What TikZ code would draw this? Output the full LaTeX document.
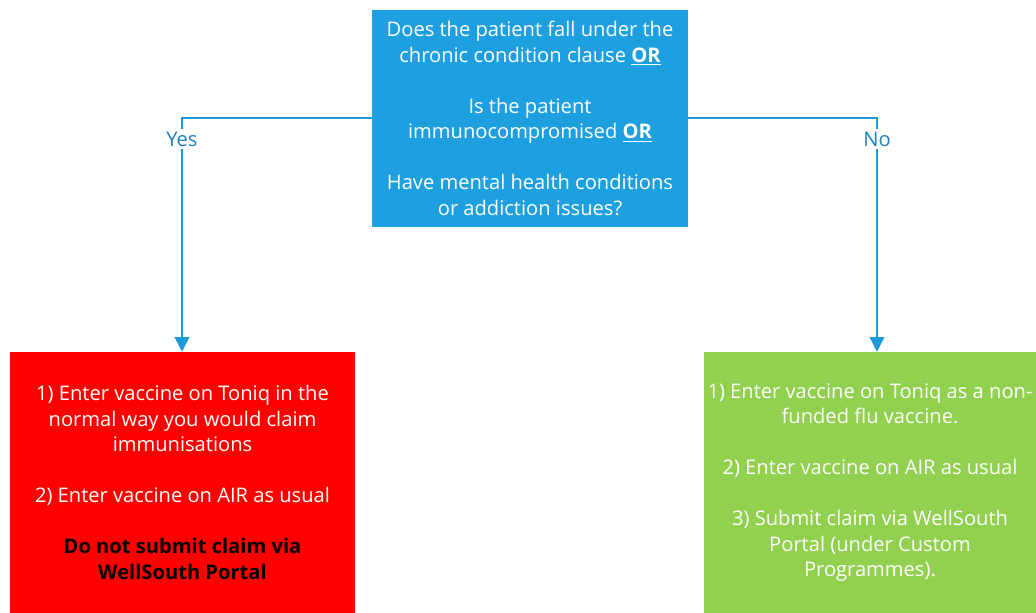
\documentclass[tikz,border=0pt]{standalone}
\usepackage{fontspec}
\setmainfont{Open Sans}
\usetikzlibrary{arrows.meta}
\definecolor{qblue}{HTML}{1EA0E0}
\definecolor{lblue}{HTML}{1E9AD8}
\definecolor{tblue}{HTML}{1F80BE}
\definecolor{gfill}{HTML}{92D050}
\definecolor{rfill}{HTML}{FF0000}
\tikzset{
  box/.style={draw=none, inner sep=0pt, align=center, text=white,
    font=\fontsize{15.1}{19.1}\selectfont},
  conn/.style={draw=lblue, line width=1.1pt, -{Triangle[width=11pt,length=11pt]}},
  lbl/.style={fill=white, inner sep=2pt, text=tblue, font=\fontsize{15.1}{19.1}\selectfont}
}
\begin{document}
\begin{tikzpicture}[x=0.75pt,y=-0.75pt]
\useasboundingbox (0,0) rectangle (1036,613);
\node[box, fill=qblue, minimum width=316*0.75pt, minimum height=217*0.75pt] (q) at (530,118.5)
 {Does the patient fall under the\\ chronic condition clause \textbf{\underline{OR}}\\[19.1pt]
  Is the patient\\ immunocompromised \textbf{\underline{OR}}\\[19.1pt]
  Have mental health conditions\\ or addiction issues?};
\node[box, fill=rfill, minimum width=345*0.75pt, minimum height=261*0.75pt] (yesbox) at (182.5,482.5)
 {1) Enter vaccine on Toniq in the\\ normal way you would claim\\ immunisations\\[19.1pt]
  2) Enter vaccine on AIR as usual\\[19.1pt]
  \textcolor{black}{\textbf{Do not submit claim via}}\\ \textcolor{black}{\textbf{WellSouth Portal}}};
\node[box, fill=gfill, minimum width=332*0.75pt, minimum height=261*0.75pt] (nobox) at (870,482.5)
 {1) Enter vaccine on Toniq as a non-\\ funded flu vaccine.\\[19.1pt]
  2) Enter vaccine on AIR as usual\\[19.1pt]
  3) Submit claim via WellSouth\\ Portal (under Custom\\ Programmes).};
\coordinate (ycorner) at (182,118);
\coordinate (ncorner) at (877,118);
\draw[conn] (q.west |- ycorner) -- (ycorner) -- (yesbox.north -| ycorner);
\draw[conn] (q.east |- ncorner) -- (ncorner) -- (nobox.north -| ncorner);
\node[lbl] (yes) at (182,139) {Yes};
\node[lbl] (no) at (877,139) {No};
\end{tikzpicture}
\end{document}
